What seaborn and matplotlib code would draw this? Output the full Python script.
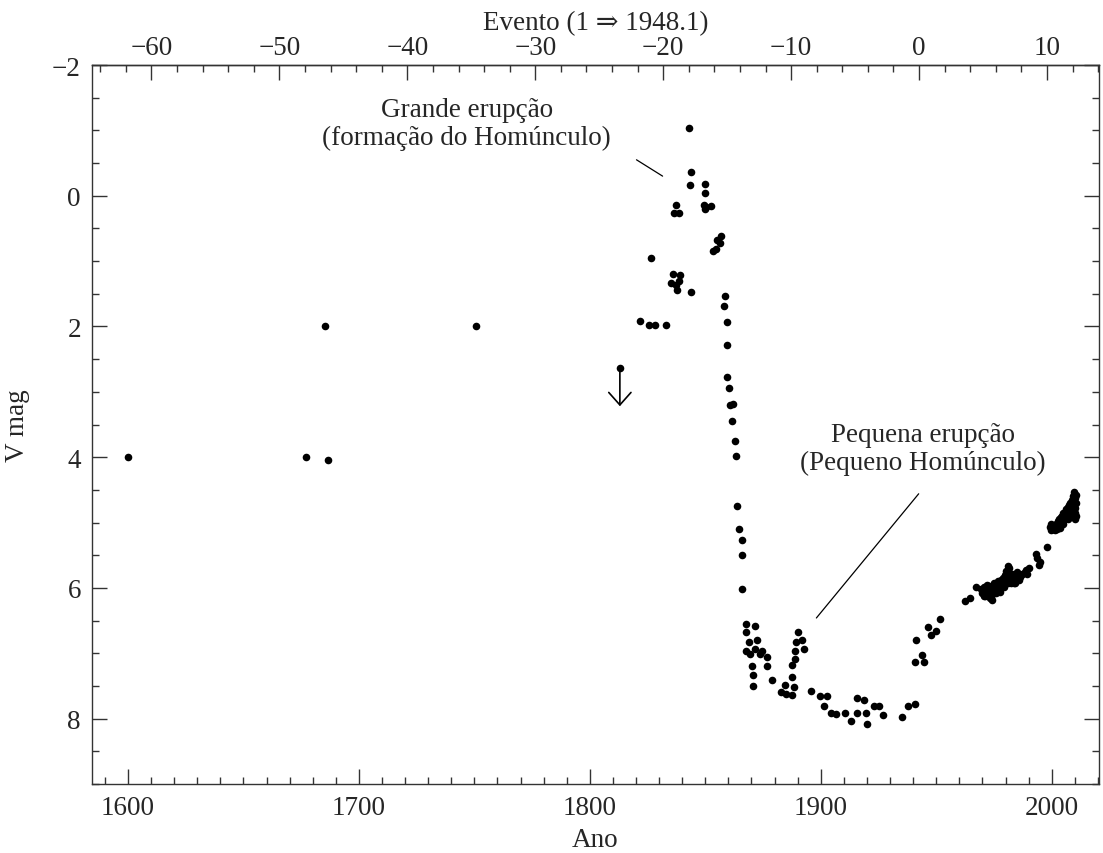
import numpy as np
import pandas as pd
import matplotlib
matplotlib.use("Agg")
import matplotlib.pyplot as plt
import seaborn as sns
from matplotlib.ticker import MultipleLocator

# ---------------- data ----------------
hist_year = [1600.0, 1677.0, 1685.5, 1686.5, 1750.5]
hist_mag = [4.0, 4.0, 2.0, 4.05, 2.0]

limit_year = 1813.0
limit_mag = 2.63
limit_tip = 3.22

erup_year = [1821.9, 1825.6, 1828.1, 1833.0, 1826.4,
             1836.0, 1838.9, 1835.3, 1837.5, 1838.5, 1837.8, 1843.6,
             1837.2, 1836.4, 1838.4,
             1843.0, 1843.7, 1843.2,
             1849.9, 1849.9, 1849.5, 1850.5, 1852.4, 1849.9,
             1856.7, 1855.1, 1856.3, 1854.5, 1853.4,
             1858.4, 1858.0, 1859.2]
erup_mag = [1.92, 1.97, 1.97, 1.97, 0.96,
            1.19, 1.22, 1.34, 1.37, 1.31, 1.44, 1.47,
            0.14, 0.27, 0.27,
            -1.04, -0.36, -0.17,
            -0.18, -0.04, 0.14, 0.17, 0.16, 0.21,
            0.61, 0.67, 0.72, 0.81, 0.85,
            1.53, 1.68, 1.93]

decl_year = [1859.4, 1859.6, 1860.3, 1860.6, 1861.8, 1861.5, 1862.8, 1863.5,
             1863.6, 1864.8, 1865.8, 1865.8, 1865.8]
decl_mag = [2.28, 2.78, 2.94, 3.20, 3.18, 3.45, 3.76, 3.98,
            4.74, 5.10, 5.27, 5.49, 6.02]

post_year = [1867.8, 1871.4, 1867.8, 1869.0, 1872.4, 1867.8, 1869.3, 1871.4,
             1873.6, 1874.7, 1876.5, 1870.2, 1876.5, 1870.7, 1870.7, 1878.8,
             1882.7, 1884.4, 1885.1, 1887.7, 1888.3, 1887.7, 1887.5, 1888.7,
             1889.0, 1889.4, 1890.2, 1892.0, 1892.9, 1895.7]
post_mag = [6.55, 6.58, 6.67, 6.83, 6.80, 6.96, 7.01, 6.94,
            7.01, 6.96, 7.06, 7.19, 7.19, 7.34, 7.50, 7.41,
            7.59, 7.48, 7.63, 7.64, 7.52, 7.36, 7.18, 7.08,
            6.97, 6.83, 6.67, 6.79, 6.93, 7.58]

min_year = [1899.8, 1902.9, 1901.6, 1904.3, 1906.8, 1910.6, 1913.2, 1915.7,
            1915.8, 1918.6, 1919.5, 1920.2, 1923.0, 1925.1, 1926.8, 1935.2,
            1937.7, 1940.7]
min_mag = [7.66, 7.66, 7.81, 7.92, 7.93, 7.91, 8.04, 7.91,
           7.68, 7.72, 7.91, 8.08, 7.81, 7.81, 7.94, 7.97,
           7.80, 7.78]

rise_year = [1940.8, 1944.7, 1943.8, 1941.4, 1946.3, 1947.6, 1950.0, 1951.6,
             1962.3, 1964.5, 1967.3]
rise_mag = [7.13, 7.13, 7.02, 6.79, 6.60, 6.72, 6.66, 6.48,
            6.20, 6.15, 5.99]

mod_year = [1969.5, 1970.0, 1970.5, 1971.0, 1971.3, 1971.8, 1972.2, 1972.6,
            1973.0, 1973.4, 1973.8, 1974.3, 1974.6, 1975.0, 1975.4, 1975.8,
            1976.2, 1976.6, 1977.0, 1977.4, 1977.8, 1978.2, 1978.6, 1979.0,
            1979.4, 1979.8, 1980.2, 1980.6, 1981.0, 1981.3, 1981.7, 1982.1,
            1982.5, 1982.9, 1983.3, 1983.7, 1984.1, 1984.5, 1985.0, 1985.5,
            1986.0, 1986.5, 1987.0, 1988.5, 1989.0, 1989.5, 1990.3,
            1970.8, 1972.0, 1973.2, 1974.0, 1975.2, 1976.0, 1976.8, 1977.6,
            1978.4, 1979.2, 1980.0, 1980.9, 1982.3, 1983.5, 1984.8, 1986.2,
            1993.4, 1993.6, 1994.5, 1994.8, 1997.8, 1999.1, 1999.9, 1999.5]
mod_mag = [6.02, 6.08, 5.98, 6.05, 6.12, 5.95, 6.02, 6.10,
           5.97, 6.05, 6.14, 6.18, 6.00, 5.93, 6.07, 5.98,
           6.03, 5.90, 5.97, 6.06, 5.92, 5.88, 5.99, 5.85,
           5.94, 5.80, 5.74, 5.87, 5.66, 5.78, 5.70, 5.83,
           5.92, 5.78, 5.86, 5.80, 5.92, 5.84, 5.76, 5.82,
           5.88, 5.80, 5.78, 5.76, 5.72, 5.78, 5.70,
           6.13, 6.08, 6.15, 6.10, 6.02, 6.08, 6.01, 5.99,
           5.95, 5.98, 5.90, 5.93, 5.88, 5.92, 5.86, 5.84,
           5.48, 5.55, 5.65, 5.60, 5.38, 5.07, 5.02, 5.12]

rec_year = [2000.5, 2001.0, 2001.5, 2002.0, 2002.3, 2002.7, 2003.0, 2003.3,
            2003.6, 2003.9, 2004.2, 2004.5, 2004.8, 2005.1, 2005.4, 2005.7,
            2006.0, 2006.3, 2006.6, 2006.9, 2007.2, 2007.5, 2007.8, 2008.1,
            2008.4, 2008.7, 2009.0, 2009.3, 2009.5, 2009.7, 2009.9, 2010.1,
            2010.3, 2010.4, 2010.5, 2010.5, 2010.2, 2008.0, 2007.0, 2005.0]
rec_mag = [5.10, 5.05, 5.12, 5.02, 5.10, 4.98, 5.05, 4.95,
           5.08, 4.92, 5.00, 4.90, 4.97, 4.86, 4.94, 4.84,
           4.90, 4.80, 4.88, 4.76, 4.85, 4.73, 4.82, 4.70,
           4.79, 4.66, 4.75, 4.60, 4.53, 4.70, 4.85, 4.62,
           4.78, 4.90, 4.58, 4.70, 4.95, 4.92, 4.95, 5.02]

event_ticks = [-60, -50, -40, -30, -20, -10, 0, 10]
year_ticks = [1600, 1700, 1800, 1900, 2000]
mag_ticks = [-2, 0, 2, 4, 6, 8]

period = 5.54
event1_year = 1948.1

# ---------------- figure ----------------
sns.set_theme(style="ticks")
serif = ["Liberation Serif", "DejaVu Serif"]
plt.rcParams["font.family"] = serif
plt.rcParams["axes.unicode_minus"] = True
FS = 19.5

df = pd.DataFrame({
    "Ano": hist_year + erup_year + decl_year + post_year + min_year + rise_year + mod_year + rec_year,
    "V mag": hist_mag + erup_mag + decl_mag + post_mag + min_mag + rise_mag + mod_mag + rec_mag,
})

fig = plt.figure(figsize=(11.03, 8.54), dpi=100)
ax = fig.add_axes([0.0834, 0.0808, 0.9130, 0.8419])

sns.scatterplot(data=df, x="Ano", y="V mag", ax=ax, color="black", s=30,
                edgecolor="black", linewidth=0, legend=False)

# upper-limit point with arrow
ax.scatter([limit_year], [limit_mag], color="black", s=30, linewidths=0)
ax.annotate("", xy=(limit_year, limit_tip), xytext=(limit_year, limit_mag),
            arrowprops=dict(arrowstyle="->, head_length=0.45, head_width=0.4",
                            lw=1.2, color="black", mutation_scale=20,
                            shrinkA=0, shrinkB=0))

ax.set_xlim(1584.4, 2020.5)
ax.set_ylim(9, -2)

ax.set_xticks(year_ticks)
ax.xaxis.set_minor_locator(MultipleLocator(10))
ax.set_yticks(mag_ticks)
ax.yaxis.set_minor_locator(MultipleLocator(0.5))

ax.tick_params(axis="both", which="major", direction="in", length=10.5, width=1.0,
               labelsize=FS, color="#333333", pad=8)
ax.tick_params(axis="both", which="minor", direction="in", length=5, width=1.0,
               color="#333333")
ax.tick_params(axis="y", which="both", right=True, left=True)
ax.tick_params(axis="x", which="both", top=False, bottom=True)
for lab in ax.get_xticklabels() + ax.get_yticklabels():
    lab.set_fontfamily(serif)

for sp in ax.spines.values():
    sp.set_visible(True)
    sp.set_linewidth(1.0)
    sp.set_color("#333333")

ax.set_xlabel("Ano", fontsize=FS, labelpad=5)
ax.set_ylabel("V mag", fontsize=FS, labelpad=16)

# top axis: event number
def y2e(y):
    return (np.asarray(y) - event1_year) / period + 1.0

def e2y(e):
    return (np.asarray(e) - 1.0) * period + event1_year

sec = ax.secondary_xaxis("top", functions=(y2e, e2y))
sec.set_xticks(event_ticks)
sec.xaxis.set_minor_locator(MultipleLocator(2))
sec.tick_params(which="major", direction="in", length=10.5, width=1.0,
                labelsize=FS, color="#333333", pad=3.5)
sec.tick_params(which="minor", direction="in", length=5, width=1.0, color="#333333")
sec.spines["top"].set_linewidth(1.0)
sec.spines["top"].set_color("#333333")
sec.set_xlabel("Evento (1 \u21d2 1948.1)", fontsize=FS, labelpad=4)
for lab in sec.get_xticklabels():
    lab.set_fontfamily(serif)

# annotations
ax.text(1746.7, -1.10, "Grande erupção\n(formação do Homúnculo)", fontsize=FS,
        ha="center", va="center", multialignment="center", linespacing=1.15)
ax.annotate("", xy=(1831.5, -0.30), xytext=(1820.2, -0.55),
            arrowprops=dict(arrowstyle="-", lw=0.9, color="black",
                            shrinkA=0, shrinkB=0))
ax.text(1944.2, 3.86, "Pequena erupção\n(Pequeno Homúnculo)", fontsize=FS,
        ha="center", va="center", multialignment="center", linespacing=1.15)
ax.annotate("", xy=(1898.1, 6.46), xytext=(1942.4, 4.56),
            arrowprops=dict(arrowstyle="-", lw=0.9, color="black",
                            shrinkA=0, shrinkB=0))

fig.savefig("out.png", dpi=100)
